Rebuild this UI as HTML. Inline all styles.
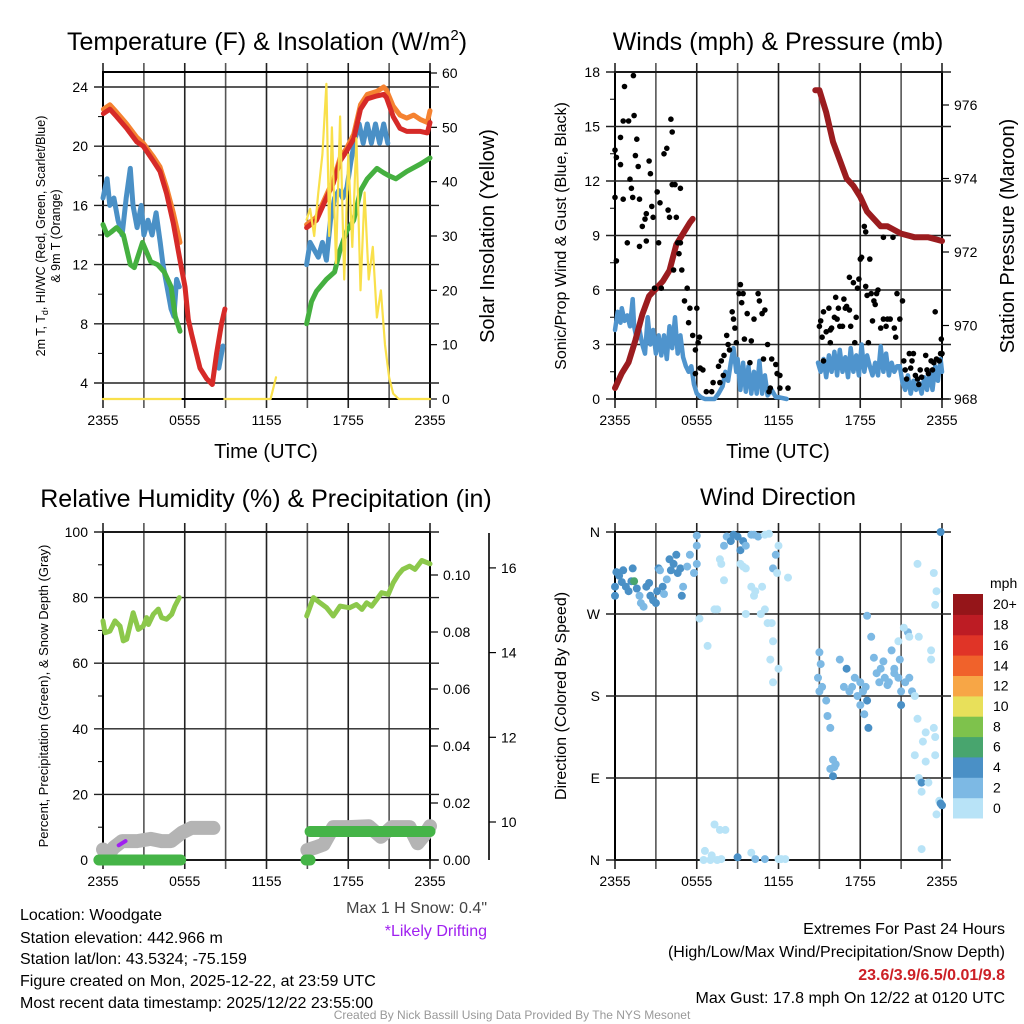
<!DOCTYPE html>
<html><head><meta charset="utf-8"><style>
html,body{margin:0;padding:0;background:#fff;}
svg{display:block;font-family:"Liberation Sans",Arial,sans-serif;}
</style></head><body>
<svg id="root" width="1024" height="1024" viewBox="0 0 1024 1024" xmlns="http://www.w3.org/2000/svg">
<g id="g1"></g>
<g id="g2"></g>
<g id="g3"></g>
<g id="g4"></g>
<g id="txt">
<text x="20" y="920" font-size="16">Location: Woodgate</text>
<text x="20" y="943" font-size="16">Station elevation: 442.966 m</text>
<text x="20" y="964" font-size="16">Station lat/lon: 43.5324; -75.159</text>
<text x="20" y="986" font-size="16">Figure created on Mon, 2025-12-22, at 23:59 UTC</text>
<text x="20" y="1008" font-size="16">Most recent data timestamp: 2025/12/22 23:55:00</text>
<text x="487" y="913" font-size="16" text-anchor="end" fill="#444">Max 1 H Snow: 0.4"</text>
<text x="487" y="936" font-size="16" text-anchor="end" fill="#a020f0">*Likely Drifting</text>
<text x="1005" y="934" font-size="16" text-anchor="end">Extremes For Past 24 Hours</text>
<text x="1005" y="957" font-size="16" text-anchor="end">(High/Low/Max Wind/Precipitation/Snow Depth)</text>
<text x="1005" y="980" font-size="16" text-anchor="end" font-weight="bold" fill="#cc2026">23.6/3.9/6.5/0.01/9.8</text>
<text x="1005" y="1003" font-size="16" text-anchor="end">Max Gust: 17.8 mph On 12/22 at 0120 UTC</text>
<text x="512" y="1019" font-size="12" text-anchor="middle" fill="#999">Created By Nick Bassill Using Data Provided By The NYS Mesonet</text>
</g>
</svg>
<script>
// ---------- data ----------
const xTickLabels = ["2355","0555","1155","1755","2355"];
const tempTicks = [4,8,12,16,20,24];
const insolTicks = [0,10,20,30,40,50,60];
const windTicks = [0,3,6,9,12,15,18];
const presTicks = [968,970,972,974,976];
const rhTicks = [0,20,40,60,80,100];
const precipTicks = [0.00,0.02,0.04,0.06,0.08,0.10];
const snowTicks = [10,12,14,16];
const dirTicks = ["N","E","S","W","N"];
const speedBins = ["0","2","4","6","8","10","12","14","16","18","20+"];

const tempT = [0.03,0.51,1.0,1.74,2.47,2.96,3.69,4.18,4.67,5.16,5.65,6.02,6.26,6.5,7.12,7.6,8.02,8.34,8.7,8.95,null,14.94,15.67,16.4,16.9,17.4,17.9,18.4,18.9,19.4,20.1,20.6,20.8,21.3,21.8,22.3,22.8,23.3,23.8,24];
const tempV = [22.2,22.5,22.0,21.2,20.3,20.0,19.0,18.3,16.8,14.8,12.3,10.5,8.3,7.3,5.0,4.3,3.9,6.0,8.0,9.0,null,14.5,15.0,16.5,17.5,19.0,19.7,20.5,22.5,23.2,23.4,23.5,23.3,22.0,21.2,21.0,21.0,21.0,20.9,21.6];
const t9T = [0.03,0.51,1.0,1.74,2.47,2.96,3.69,4.18,4.67,5.16,5.65,null,14.94,15.67,16.4,16.9,17.4,17.9,18.4,18.9,19.4,20.1,20.6,20.8,21.3,21.8,22.3,22.8,23.3,23.8,24];
const t9V = [22.5,22.8,22.3,21.5,20.6,20.2,19.3,18.6,17.2,15.5,13.5,null,14.7,15.2,16.7,17.7,19.2,19.9,20.8,22.8,23.5,23.7,24.0,23.8,22.7,22.1,21.9,22.1,21.8,21.6,22.4];
const tdT = [0.0,0.3,0.6,1.0,1.5,2.0,2.3,2.9,3.5,4.0,4.5,5.0,5.3,5.65,null,14.94,15.3,15.67,16.4,17.0,17.4,17.9,18.4,18.9,19.4,20.1,20.6,21.0,21.5,22.3,23.3,24];
const tdV = [14.7,14.0,14.2,14.5,14.0,12.0,11.8,13.5,12.2,12.0,11.5,10.5,8.5,7.5,null,8.0,9.5,10.2,11.0,11.5,13.0,14.3,15.0,17.0,17.8,18.5,18.2,18.0,17.8,18.3,18.8,19.2];
const wcT = [0.0,0.3,0.5,0.8,1.1,1.4,1.7,2.0,2.2,2.5,2.8,3.0,3.3,3.6,3.9,4.2,4.4,4.6,4.8,5.0,5.2,5.4,5.6,null,8.5,8.8,null,14.94,15.2,15.5,15.8,16.1,16.4,16.7,17.0,17.3,17.6,17.9,18.2,18.5,18.8,19.1,19.4,19.7,20.0,20.3,20.6,20.9];
const wcV = [16.5,17.8,16.0,16.5,15.0,14.0,16.5,18.5,16.0,14.5,16.0,14.0,15.0,14.0,15.5,13.5,12.0,11.0,10.0,9.0,8.5,11.0,10.5,null,5.0,6.5,null,12.0,13.5,13.0,12.5,13.5,12.3,15.0,16.5,17.0,16.5,17.2,19.0,20.5,21.5,20.2,21.5,20.2,21.5,20.2,21.5,20.2];
const insT = [0,5.7,null,8.9,12.3,12.7,null,14.94,15.2,15.5,15.8,16.1,16.4,16.6,16.8,17.1,17.4,17.7,18.0,18.3,18.6,18.9,19.2,19.5,19.8,20.1,20.4,20.7,21.0,21.3,21.7,22.0,24];
const insV = [0,0,null,0,0,4,null,33,35,30,38,45,58,30,50,25,52,22,45,28,48,20,38,22,28,15,20,10,4,1,0,0,0];

const gustT = [0,0.1,0,0.1,0.4,0.4,0.6,0.6,0.7,0.9,1.0,1.1,1.2,1.3,1.35,1.4,1.5,1.6,1.7,1.8,1.8,2.0,2.2,2.3,2.3,2.5,2.6,2.7,2.8,2.9,3.1,3.2,3.3,3.4,3.6,3.8,3.9,4.0,4.1,4.2,4.2,4.3,4.4,4.5,4.6,4.7,4.8,4.8,4.9,5.1,5.3,5.4,5.5,5.7,5.9,6.0,6.1,6.2,5.9,6.25,6.45,6.7,7.1,7.2,7.6,7.7,7.8,7.95,8.0,8.2,8.3,8.4,8.6,8.7,8.8,8.9,9.1,9.2,9.3,9.4,9.5,9.7,9.9,10.0,10.2,10.5,10.6,10.8,10.9,11.0,11.2,11.3,11.4,11.5,11.8,11.9,12.1,12.1,12.7,15.0,15.1,15.2,15.3,15.3,15.5,15.7,15.8,15.8,15.9,16.1,16.2,16.3,16.4,16.5,16.7,16.8,16.9,17.0,17.2,17.2,17.3,17.5,17.6,17.7,17.8,17.9,18.0,18.1,18.3,18.4,18.4,18.5,18.6,18.7,18.8,18.9,19.0,19.1,19.2,19.3,19.5,19.7,19.7,19.9,20.0,20.2,20.4,20.5,20.6,20.7,20.9,21.1,21.2,21.3,21.4,21.6,21.7,21.8,21.9,22.05,22.2,22.3,22.4,22.5,22.8,22.9,23.0,23.2,23.3,23.4,23.5,23.6,23.8,23.9,23.95,24];
const gustV = [13.7,13.3,11.1,7.6,14.4,12.9,11,15.3,17.2,8.6,15.3,12.1,11.6,11.1,17.8,15.6,13.4,14.3,12.8,11,8.4,9.5,9.9,8.7,10.2,13.1,12.4,10.6,10,6.1,11.4,8.6,10.8,6.1,13.5,13.8,10.4,10,15.4,14.7,11.8,7.1,11.8,10,8.6,8,11.6,8.6,7.1,5.4,6.1,4.2,5.0,3.5,2.7,5.0,3.1,3.4,1.4,1.7,1.6,0.4,0.4,0.9,1.8,0.9,2.1,1.3,2.4,3.5,3.0,2.7,4.8,4.4,3.9,3.1,5.8,6.3,5.3,5.8,3.3,4.7,2.0,3.2,4.4,5.8,5.4,4.7,2.2,4.9,3.0,0.4,0.6,2.2,1.9,1.4,1.3,0.6,0.6,4.0,4.3,3.4,4.8,2.1,3.7,5.0,3.1,3.8,3.9,4.5,5.6,4.4,5.0,4.0,4.0,5.5,5.0,5.1,4.9,6.7,4.0,6.4,3.1,4.5,6.1,6.6,7.7,7.8,9.5,9.2,6.2,5.7,3.1,7.7,5.8,4.3,5.4,5.2,5.8,6.0,3.9,4.4,8.9,4.0,4.4,4.4,8.9,3.9,3.4,5.8,4.4,5.4,2.1,1.6,1.1,2.5,1.7,2.1,2.5,1.3,1.1,0.8,1.6,1.2,2.4,1.6,1.4,2.1,1.6,2.0,4.8,2.2,2.1,2.5,3.3,2.5];
const sonicT = [0,0.2,0.4,0.5,0.7,0.9,1.1,1.3,1.4,1.6,1.8,2.0,2.2,2.4,2.6,2.8,3.0,3.2,3.4,3.6,3.8,4.0,4.2,4.4,4.6,4.8,5.0,5.2,5.4,5.6,5.8,6.0,6.3,6.6,7.0,7.3,7.6,7.9,8.1,8.3,8.5,8.7,8.9,9.0,9.2,9.4,9.6,9.8,10.0,10.2,10.4,10.6,10.8,11.0,11.2,11.5,11.8,12.0,12.6,null,14.9,15.1,15.3,15.5,15.7,15.9,16.1,16.3,16.5,16.7,16.9,17.1,17.3,17.5,17.7,17.9,18.1,18.3,18.5,18.7,18.9,19.1,19.3,19.5,19.7,19.9,20.1,20.3,20.5,20.7,20.9,21.1,21.3,21.5,21.7,21.9,22.1,22.3,22.5,22.7,22.9,23.1,23.3,23.5,23.7,23.9,24];
const sonicV = [3.8,4.8,4.2,5.0,4.3,4.6,4.0,5.5,4.0,3.3,3.8,3.0,2.5,4.5,3.0,3.8,2.5,3.5,2.4,3.5,2.2,4.0,2.8,4.5,2.5,3.5,2.3,1.8,1.5,1.8,0.8,0.3,0.1,0,0,0,0.3,0.7,1.5,1.0,2.0,2.8,1.5,2.2,0.5,2.0,0.4,1.8,0.3,1.5,0.3,2.1,0.3,1.3,0.2,0.5,0.1,0.1,0,null,2.0,1.5,2.2,1.2,2.4,1.5,2.6,1.3,2.7,1.5,2.3,1.2,2.8,1.5,2.4,1.3,3.0,1.5,2.4,1.8,1.3,2.0,1.3,2.9,1.5,2.5,1.3,2.0,1.5,1.8,1.8,0.9,0.5,1.3,0.3,1.0,0.5,0.9,0.3,1.2,0.5,1.5,0.5,1.8,1.0,2.2,1.5];
const presT = [0,0.5,1.0,1.5,2.0,2.5,3.0,3.5,4.0,4.5,5.0,5.5,5.7,null,14.7,15.0,15.5,16.0,16.5,17.0,17.5,18.0,18.5,19.0,19.5,20.0,21.0,22.0,23.0,24];
const presV = [968.3,968.7,969.0,969.6,970.3,970.8,971.0,971.2,971.5,972.2,972.5,972.8,972.9,null,976.4,976.4,975.8,975.0,974.5,974.0,973.8,973.5,973.1,972.9,972.7,972.7,972.5,972.4,972.4,972.3];

const rhT = [0,0.15,0.51,0.88,1.25,1.49,1.74,2.22,2.59,2.96,3.2,3.33,3.69,4.06,4.3,4.67,5.04,5.28,5.6,null,14.95,15.44,15.93,16.42,16.9,17.4,18.1,18.6,19.0,19.35,19.72,20.1,20.45,20.94,21.3,21.67,22.0,22.5,22.9,23.4,24];
const rhV = [72.9,69.3,69.8,72.9,71.3,66.8,67.3,75.4,70.3,71.3,73.9,71.8,74.9,76.5,73.9,73.4,74.9,77.4,80,null,74.4,80,78.4,76.9,74.4,77.4,76.9,77.9,76.4,78.4,77.4,79.5,81.5,81,84.5,87,88.6,89.6,88.6,91.3,90.3];
const precipT = [-0.3,5.7,null,14.9,15.2,null,15.2,24];
const precipV = [0,0,null,0,0,null,0.01,0.01];
const snowT = [0,0.3,0.8,1.4,2.5,3.5,4.3,5.0,5.8,6.5,8.1,null,15.0,15.6,16.2,16.9,18.0,19.5,20.4,21.2,22.5,23.1,23.6,24];
const snowV = [9.35,9.2,9.4,9.55,9.55,9.6,9.55,9.55,9.75,9.86,9.86,null,9.34,9.4,9.47,9.88,9.88,9.9,9.65,9.88,9.88,9.5,9.7,9.9];
const driftT = [1.15,1.65];
const driftV = [9.45,9.55];

const dirT = [0.0,0.1,0.0,0.3,0.5,0.6,0.8,1.0,1.2,1.3,1.4,1.6,1.8,1.9,2.1,2.3,2.5,2.6,2.8,3.0,3.1,3.2,3.3,3.5,3.6,3.8,4.0,4.1,4.3,4.5,4.6,4.8,4.9,5.0,5.3,5.5,5.8,6.0,6.0,8.0,8.2,8.5,8.7,9.0,9.2,9.4,9.6,10.0,10.2,10.5,11.0,11.3,6.0,7.7,7.8,8.0,9.2,9.4,9.6,10.0,10.2,10.3,10.8,11.0,11.2,11.5,11.6,11.4,11.6,12.0,10.7,9.6,7.3,7.5,6.2,6.8,11.6,11.8,12.7,12.0,11.9,6.5,7.0,7.5,7.8,6.6,7.1,7.7,7.3,8.1,9.0,10.0,10.3,11.0,12.0,12.5,12.2,15.0,15.1,15.0,14.9,15.5,15.2,15.6,15.8,16.0,15.8,16.1,16.0,16.2,16.5,16.8,17.0,17.2,17.4,17.6,17.8,18.0,18.0,18.2,18.3,18.5,18.6,18.4,18.5,18.8,19.0,19.2,19.4,19.5,19.7,19.8,20.0,20.1,20.3,20.5,20.5,20.8,20.9,21.0,21.0,21.3,21.6,21.5,21.6,21.8,22.0,22.2,22.0,22.3,22.5,22.5,22.5,22.6,22.8,22.8,23.0,23.2,23.2,23.5,23.5,23.6,23.8,23.9,24.0,23.4,22.2,23.4,23.6,23.5,23.9,21.2,22.3,20.8];
const dirV = [300,316,290,312,305,318,300,295,306,320,306,298,290,282,278,300,304,290,285,282,295,320,318,300,292,308,330,318,325,335,315,320,290,300,322,335,315,325,345,345,355,350,357,355,340,350,345,357,357,355,357,358,356,330,325,307,325,322,320,300,290,295,300,275,260,260,240,220,195,210,270,270,275,275,265,235,320,335,310,345,315,0,0,0,1,10,5,33,39,33,3,8,1,1,1,1,1,228,215,185,200,175,190,158,145,110,100,102,92,105,220,190,210,185,190,200,180,170,195,185,160,175,145,190,268,245,222,205,195,210,218,200,192,195,230,205,210,200,220,185,170,195,200,250,245,185,180,155,115,90,85,75,12,130,140,108,85,220,230,135,115,50,65,62,60,145,325,315,295,280,360,255,245,240];
const dirS = [4,4,4,4,4,4,4,4,4,4,6,4,3,3,3,4,4,4,4,4,4,4,3,4,3,3,4,4,4,4,4,4,4,3,3,3,3,3,2,2,3,4,4,4,4,4,3,3,3,2,1,1,2,1,1,1,1,1,1,1,1,1,1,1,1,1,1,1,1,1,1,1,1,1,1,1,2,2,1,1,1,1,1,1,1,1,1,1,1,1,4,1,3,3,1,1,1,2,3,3,3,2,3,3,3,3,3,3,4,3,2,3,4,3,3,3,3,3,3,3,3,4,4,3,2,2,3,3,3,3,2,3,3,3,3,3,3,3,3,3,4,3,2,2,1,2,1,1,1,1,4,1,1,1,1,1,1,1,1,1,1,1,1,4,4,1,1,1,1,1,4,1,1,1];

// ---------- helpers ----------
const NS = "http://www.w3.org/2000/svg";
function mk(parent, tag, attrs, text){
  const e = document.createElementNS(NS, tag);
  for (const k in attrs) e.setAttribute(k, attrs[k]);
  if (text !== undefined) e.textContent = text;
  parent.appendChild(e);
  return e;
}
function pathFrom(T, V, sx, sy){
  let d = "", pen = false;
  for (let i = 0; i < T.length; i++){
    if (T[i] === null || V[i] === null){ pen = false; continue; }
    d += (pen ? "L" : "M") + sx(T[i]).toFixed(1) + "," + sy(V[i]).toFixed(1);
    pen = true;
  }
  return d;
}
const speedColors = ["#b8e3f7","#7db9e4","#4a90c6","#48a56e","#7ec24c","#e8e05a","#f7a646","#f0622b","#e03427","#bd1c24","#951519"];

function frame(g, L, R, T, B){
  for (let k = 0; k <= 8; k++){
    const x = L + k*(R-L)/8;
    const gl = mk(g,"line",{x1:x,y1:T-9,x2:x,y2:B+9,stroke:k%2?"#555":"#222","stroke-width":1.6});
    
    
  }
  const bx = mk(g,"rect",{x:L,y:T,width:R-L,height:B-T,fill:"none",stroke:"#000","stroke-width":2});
  
  
  for (let k = 0; k < xTickLabels.length; k++){
    const x = L + k*(R-L)/4;
    const tl = mk(g,"text",{x:x,y:B+26,"font-size":14,"text-anchor":"middle"},xTickLabels[k]);
    
    
  }
}
function hgrid(g, L, R, y, lab){
  const l = mk(g,"line",{x1:L-9,y1:y,x2:R+9,y2:y,stroke:"#222","stroke-width":1.4});
  
  
  const t = mk(g,"text",{x:L-15,y:y+5,"font-size":14,"text-anchor":"end"},lab);
  
  
}
function minor(g, L, y){
  const l = mk(g,"line",{x1:L-5,y1:y,x2:L,y2:y,stroke:"#000","stroke-width":1});
  
  
}
function rtick(g, x, y, lab, len){
  const l = mk(g,"line",{x1:x,y1:y,x2:x+len,y2:y,stroke:"#000","stroke-width":1.2});
  
  
  const t = mk(g,"text",{x:x+len+5,y:y+5,"font-size":14},lab);
  
  
}
function title(g, x, y, s, txt, name){
  const t = mk(g,"text",{x:x,y:y,"font-size":s,"text-anchor":"middle"},txt);
  
  
  return t;
}
function vtitle(g, x, y, s, txt, name, rot){
  const t = mk(g,"text",{x:x,y:y,"font-size":s,"text-anchor":"middle",transform:`rotate(${rot} ${x} ${y})`},txt);
  
  
  return t;
}
function line(g, d, color, w, name){
  const p = mk(g,"path",{d:d,fill:"none",stroke:color,"stroke-width":w,"stroke-linejoin":"round","stroke-linecap":"round"});
  
  
  return p;
}

// ---------- panel 1 ----------
(function(){
  const g = document.getElementById("g1");
  const L=103,R=430,T=72,B=399;
  const sx = t => L + t*(R-L)/24;
  const sy = v => 383 - (v-4)*14.8;
  const sI = v => 399 - v*(399-73)/60;
  frame(g,L,R,T,B);
  tempTicks.forEach(v => { hgrid(g,L,R,sy(v),String(v)); if (v<24) minor(g,L,sy(v+2)); });
  insolTicks.forEach(v => rtick(g,R,sI(v),String(v),7));
  line(g,pathFrom(t9T,t9V,sx,sy),"#f58231",5,"temp-9m-line");
  line(g,pathFrom(wcT,wcV,sx,sy),"#4a90c6",5,"wind-chill-line");
  line(g,pathFrom(tdT,tdV,sx,sy),"#45b040",5,"dewpoint-line");
  line(g,pathFrom(tempT,tempV,sx,sy),"#d62a28",5,"temp-2m-line");
  line(g,pathFrom(insT,insV,sx,sI),"#f9e04b",2.2,"insolation-line");
  const t = mk(g,"text",{x:267,y:50,"font-size":25,"text-anchor":"middle"});
  
  
  t.innerHTML = 'Temperature (F) &amp; Insolation (W/m<tspan dy="-10" font-size="15">2</tspan><tspan dy="10">)</tspan>';
  title(g,266,458,20,"Time (UTC)","x-axis-title");
  const yl = mk(g,"text",{x:0,y:0,"font-size":12.5,"text-anchor":"middle",transform:"translate(45,236) rotate(-90)"});
  
  
  yl.innerHTML = '2m T, T<tspan dy="3" font-size="9">d</tspan><tspan dy="-3">, HI/WC (Red, Green, Scarlet/Blue)</tspan>';
  vtitle(g,60,236,12.5,"& 9m T (Orange)","temperature-y-axis-title-line2",-90);
  vtitle(g,494,236,20,"Solar Insolation (Yellow)","insolation-axis-title",-90);
})();

// ---------- panel 2 ----------
(function(){
  const g = document.getElementById("g2");
  const L=615,R=942,T=72,B=399;
  const sx = t => L + t*(R-L)/24;
  const sy = v => B - v*(B-T)/18;
  const sp = v => B - (v-968)*36.75;
  frame(g,L,R,T,B);
  windTicks.forEach(v => { hgrid(g,L,R,sy(v),String(v)); if (v<18) minor(g,L,sy(v+1.5)); });
  presTicks.forEach(v => rtick(g,R,sp(v),String(v),7));
  line(g,pathFrom(sonicT,sonicV,sx,sy),"#4f94cd",4.5,"sonic-wind-line");
  line(g,pathFrom(presT,presV,sx,sp),"#9b1c1f",6,"pressure-line");
  for (let i=0;i<gustT.length;i++){
    const c = mk(g,"circle",{cx:sx(gustT[i]).toFixed(1),cy:sy(gustV[i]).toFixed(1),r:2.8,fill:"#000"});
    
    
  }
  title(g,778,50,25,"Winds (mph) & Pressure (mb)","winds-title");
  title(g,778,458,20,"Time (UTC)","x-axis-title");
  vtitle(g,566,236,16,"Sonic/Prop Wind & Gust (Blue, Black)","wind-y-axis-title",-90);
  vtitle(g,1014,236,20,"Station Pressure (Maroon)","pressure-axis-title",-90);
})();

// ---------- panel 3 ----------
(function(){
  const g = document.getElementById("g3");
  const L=103,R=430,T=532,B=860;
  const sx = t => L + t*(R-L)/24;
  const sy = v => B - v*(B-T)/100;
  const sP = v => B - v*2850;
  const sS = v => 822 - (v-10)*42.35;
  frame(g,L,R,T,B);
  rhTicks.forEach(v => { hgrid(g,L,R,sy(v),String(v)); if (v<100) minor(g,L,sy(v+10)); });
  precipTicks.forEach(v => rtick(g,R,sP(v),v.toFixed(2),8));
  const ax = mk(g,"line",{x1:489,y1:533,x2:489,y2:860,stroke:"#000","stroke-width":1.6});
  
  
  snowTicks.forEach(v => rtick(g,489,sS(v),String(v),7));
  line(g,pathFrom(snowT,snowV,sx,sS),"#b4b4b4",14,"snow-depth-line");
  line(g,pathFrom(precipT,precipV,sx,sP),"#45b447",11,"precip-line");
  line(g,pathFrom(rhT,rhV,sx,sy),"#8cc84b",5,"humidity-line");
  line(g,pathFrom(driftT,driftV,sx,sS),"#a020f0",4,"drift-marker");
  title(g,266,507,25,"Relative Humidity (%) & Precipitation (in)","humidity-title");
  vtitle(g,48,696,13,"Percent, Precipitation (Green), & Snow Depth (Gray)","humidity-y-axis-title",-90);
})();

// ---------- panel 4 ----------
(function(){
  const g = document.getElementById("g4");
  const L=615,R=942,T=532,B=860;
  const sx = t => L + t*(R-L)/24;
  const sy = v => B - v*(B-T)/360;
  frame(g,L,R,T,B);
  dirTicks.forEach((lab,k) => hgrid(g,L,R,sy(k*90),lab));
  for (let i=0;i<dirT.length;i++){
    const c = mk(g,"circle",{cx:sx(dirT[i]).toFixed(1),cy:sy(dirV[i]).toFixed(1),r:4,fill:speedColors[Math.min(10,Math.floor(dirS[i]/2))]});
    
    
  }
  title(g,778,505,24,"Wind Direction","direction-title");
  vtitle(g,566,696,16,"Direction (Colored By Speed)","direction-y-axis-title",-90);
  const h = (818-594)/11;
  for (let k=0;k<speedBins.length;k++){
    const y = 818 - (k+1)*h;
    const r = mk(g,"rect",{x:953,y:y.toFixed(1),width:30,height:(h+0.5).toFixed(1),fill:speedColors[k]});
    
    
    const t = mk(g,"text",{x:993,y:(y+h/2+5).toFixed(1),"font-size":14},speedBins[k]);
    
    
  }
  const u = mk(g,"text",{x:990,y:588,"font-size":14},"mph");
  
  
})();
</script>
</body></html>
